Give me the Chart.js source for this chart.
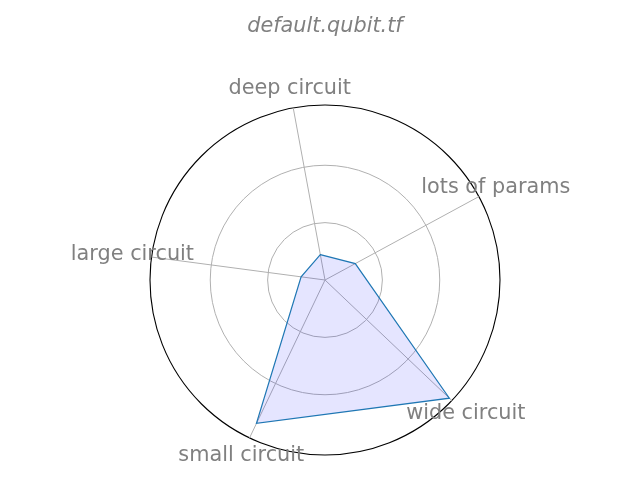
<!DOCTYPE html>
<html>
<head>
<meta charset="utf-8">
<script src="https://cdn.jsdelivr.net/npm/chart.js@4/dist/chart.umd.min.js"></script>
<style>
  html, body { margin: 0; padding: 0; background: #fff; }
  #wrap { width: 640px; height: 480px; }
</style>
</head>
<body>
<div id="wrap"><canvas id="radarChart" width="640" height="480"></canvas></div>
<script>
// categories in clockwise order starting near the top
const categories = ['deep circuit', 'lots of params', 'wide circuit', 'small circuit', 'large circuit'];
const scores = [0.45, 0.60, 2.99, 2.77, 0.42];
const gridTicks = [0, 1, 2, 3.05];
const rMax = 3.05;

// draws the category names centred on each spoke, just outside the rim
const labelPlugin = {
    id: 'spokeLabels',
    afterDraw(chart) {
        const scale = chart.scales.r;
        const ctx = chart.ctx;
        ctx.save();
        ctx.font = '20.8px "DejaVu Sans"';
        ctx.fillStyle = '#808080';
        ctx.textAlign = 'center';
        ctx.textBaseline = 'middle';
        categories.forEach((name, i) => {
            const p = scale.getPointPosition(i, scale.drawingArea * 1.11);
            ctx.fillText(name, p.x, p.y);
        });
        ctx.restore();
    }
};

const ctx = document.getElementById('radarChart').getContext('2d');
new Chart(ctx, {
    type: 'radar',
    data: {
        labels: categories,
        datasets: [{
            data: scores,
            borderColor: '#1f77b4',
            borderWidth: 1.2,
            backgroundColor: 'rgba(0, 0, 255, 0.1)',
            fill: true,
            pointRadius: 0,
            pointHoverRadius: 0
        }]
    },
    options: {
        responsive: false,
        animation: false,
        layout: { padding: { left: 150, right: 140, top: 0, bottom: 24 } },
        plugins: {
            legend: { display: false },
            tooltip: { enabled: false },
            title: {
                display: true,
                text: 'default.qubit.tf',
                color: '#808080',
                font: { family: 'DejaVu Sans', size: 20.8, style: 'italic', weight: 'normal', lineHeight: 1.2 },
                padding: { top: 14, bottom: 67 }
            }
        },
        scales: {
            r: {
                min: 0,
                max: rMax,
                startAngle: -10.46,
                afterBuildTicks: axis => {
                    axis.ticks = gridTicks.map(v => ({ value: v }));
                },
                ticks: { display: false },
                pointLabels: { display: false },
                angleLines: { color: '#b0b0b0', lineWidth: 1 },
                grid: {
                    circular: true,
                    color: c => (c.tick && c.tick.value === rMax ? '#000000' : '#b0b0b0'),
                    lineWidth: c => (c.tick && c.tick.value === rMax ? 1.1 : 1)
                }
            }
        }
    },
    plugins: [labelPlugin]
});
</script>
</body>
</html>
